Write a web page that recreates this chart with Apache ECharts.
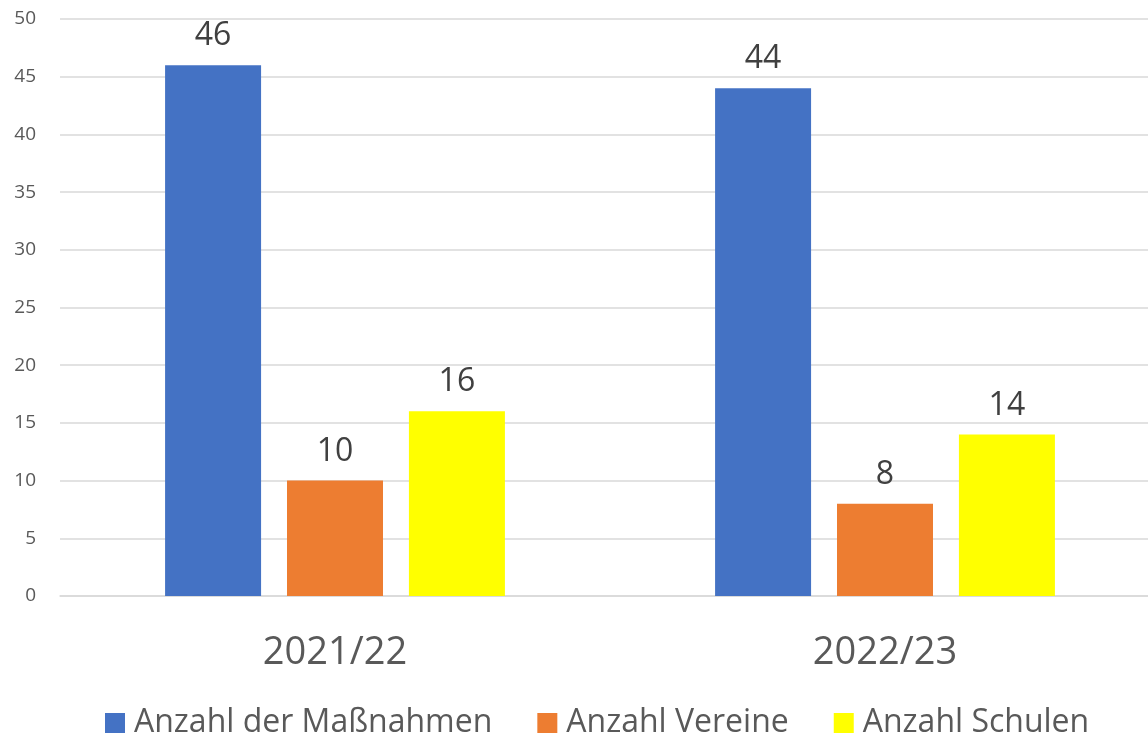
<!DOCTYPE html>
<html>
<head>
<meta charset="utf-8">
<script src="https://cdn.jsdelivr.net/npm/echarts@6/dist/echarts.min.js"></script>
<style>
html, body { margin: 0; padding: 0; background: #fff; }
#chart { width: 1148px; height: 737px; }
</style>
</head>
<body>
<div id="chart"></div>
<script>
// Schuljahre
const categories = ['2021/22', '2022/23']
const massnahmen = [46, 44]
const vereine = [10, 8]
const schulen = [16, 14]

const font = '"Open Sans", "Noto Sans", sans-serif'
const chart = echarts.init(document.getElementById('chart'))

const barLabel = {
  show: true,
  position: 'top',
  distance: 13,
  color: '#404040',
  fontSize: 32,
  fontFamily: font
}

const option = {
  animation: false,
  grid: { left: 60, width: 1100, top: 19, bottom: 141, outerBoundsMode: 'none' },
  legend: {
    bottom: -7,
    left: 100,
    itemWidth: 20,
    itemHeight: 20,
    itemGap: 45,
    icon: 'rect',
    textStyle: { color: '#595959', fontSize: 32, fontFamily: font, padding: [0, 0, 0, 4] },
    data: ['Anzahl der Maßnahmen', 'Anzahl Vereine', 'Anzahl Schulen']
  },
  xAxis: {
    type: 'category',
    data: categories,
    axisLine: { lineStyle: { color: '#d9d9d9', width: 1.5 } },
    axisTick: { show: false },
    axisLabel: { color: '#595959', fontSize: 38, fontFamily: font, margin: 38 }
  },
  yAxis: {
    type: 'value',
    min: 0,
    max: 50,
    interval: 5,
    axisLine: { show: false },
    axisTick: { show: false },
    axisLabel: { color: '#595959', fontSize: 19, fontFamily: font, margin: 24 },
    splitLine: { lineStyle: { color: '#d9d9d9', width: 1.5 } }
  },
  series: [
    {
      name: 'Anzahl der Maßnahmen',
      type: 'bar',
      data: massnahmen,
      barWidth: 96,
      barGap: '27%',
      itemStyle: { color: '#4472C4' },
      label: barLabel
    },
    {
      name: 'Anzahl Vereine',
      type: 'bar',
      data: vereine,
      barWidth: 96,
      barGap: '27%',
      itemStyle: { color: '#ED7D31' },
      label: barLabel
    },
    {
      name: 'Anzahl Schulen',
      type: 'bar',
      data: schulen,
      barWidth: 96,
      barGap: '27%',
      itemStyle: { color: '#FFFF00' },
      label: barLabel
    }
  ]
}
chart.setOption(option)
</script>
</body>
</html>
